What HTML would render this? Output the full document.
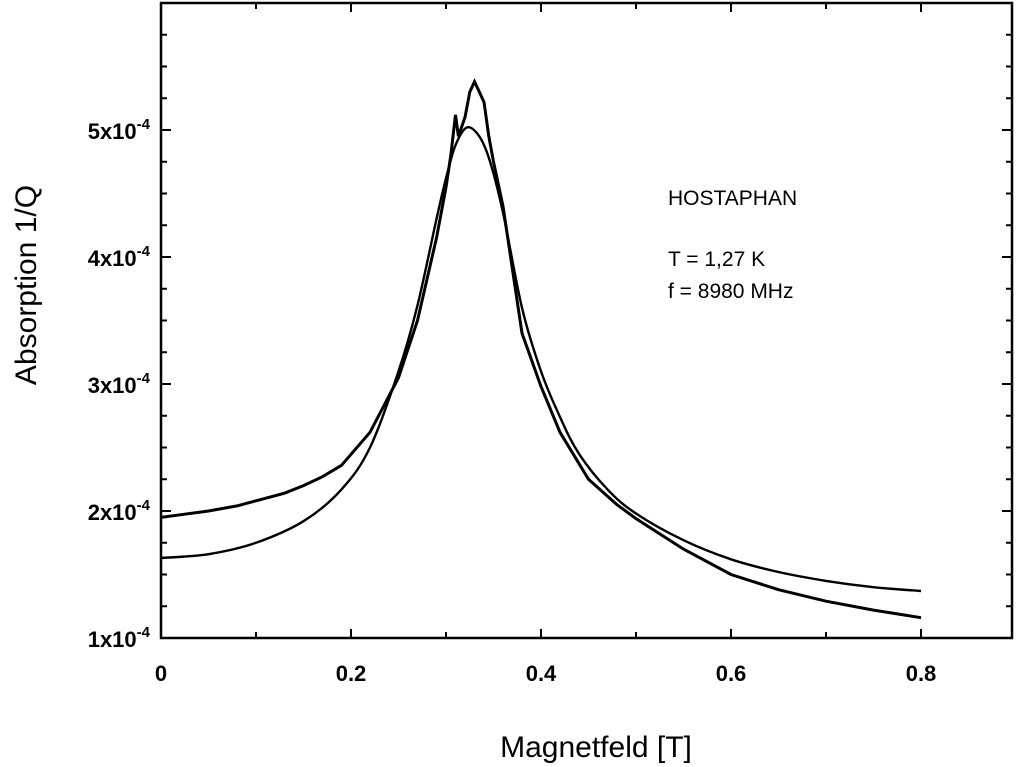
<!DOCTYPE html>
<html><head><meta charset="utf-8"><style>
body{margin:0;background:#fff;}
svg{display:block;font-family:"Liberation Sans",sans-serif;}
</style></head><body>
<svg id="c" width="1016" height="767">
<rect width="1016" height="767" fill="#fff"/>
<g id="axes"></g>
<g id="marks"></g>
<text x="668" y="205" font-size="21">HOSTAPHAN</text>
<text x="668" y="266" font-size="21">T = 1,27 K</text>
<text x="668" y="298" font-size="21">f = 8980 MHz</text>
<text x="596" y="757" font-size="30" text-anchor="middle">Magnetfeld [T]</text>
<text transform="translate(36,285) rotate(-90)" font-size="30" text-anchor="middle">Absorption 1/Q</text>
</svg>
<script>
const xTicks=[0,0.2,0.4,0.6,0.8];
const yTicks=[1,2,3,4,5];
const measX=[0,0.02,0.05,0.08,0.1,0.13,0.15,0.17,0.19,0.22,0.25,0.27,0.29,0.3,0.305,0.31,0.313,0.32,0.325,0.33,0.335,0.34,0.345,0.35,0.36,0.38,0.4,0.42,0.45,0.48,0.5,0.55,0.6,0.65,0.7,0.75,0.8];
const measY=[1.95,1.97,2.0,2.04,2.08,2.14,2.2,2.27,2.36,2.62,3.05,3.5,4.15,4.55,4.8,5.12,4.95,5.1,5.3,5.38,5.3,5.22,4.95,4.75,4.4,3.4,2.98,2.62,2.25,2.05,1.94,1.7,1.5,1.38,1.29,1.22,1.16];
const fitX=[0,0.05,0.1,0.15,0.19,0.22,0.25,0.27,0.29,0.3,0.31,0.322,0.335,0.346,0.36,0.38,0.4,0.42,0.44,0.47,0.5,0.55,0.6,0.65,0.7,0.75,0.8];
const fitY=[1.63,1.66,1.75,1.92,2.17,2.5,3.1,3.62,4.3,4.62,4.88,5.02,4.95,4.76,4.35,3.6,3.1,2.74,2.45,2.17,1.98,1.77,1.62,1.52,1.45,1.40,1.37];
const L=161,R=1012,T=3,B=638;
const sx=v=>L+v*950, sy=v=>B-(v-1)*127;
const NS='http://www.w3.org/2000/svg';
const ax=document.getElementById('axes'), mk=document.getElementById('marks');
function el(t,a,p){const e=document.createElementNS(NS,t);for(const k in a)e.setAttribute(k,a[k]);p.appendChild(e);return e;}
const fr=el('rect',{x:L,y:T,width:R-L,height:B-T,fill:'none',stroke:'#000','stroke-width':2.5},ax);


for(let i=0;i<=8;i++){const x=sx(i*0.1);const len=i%2==0?9:6;
el('line',{x1:x,y1:B,x2:x,y2:B-len,stroke:'#000','stroke-width':2},ax);
el('line',{x1:x,y1:T,x2:x,y2:T+len,stroke:'#000','stroke-width':2},ax);}
for(let v=1;v<=6;v+=0.25){const y=sy(v);const len=Math.abs(v-Math.round(v))<0.01?10:6;
el('line',{x1:L,y1:y,x2:L+len,y2:y,stroke:'#000','stroke-width':2},ax);
el('line',{x1:R,y1:y,x2:R-len,y2:y,stroke:'#000','stroke-width':2},ax);}
xTicks.forEach(v=>{const t=el('text',{x:sx(v),y:681,'font-size':22,'text-anchor':'middle','font-weight':'bold'},ax);t.textContent=v===0?'0':String(v);

});
yTicks.forEach(v=>{const t=el('text',{x:150,y:sy(v)+9,'font-size':22,'text-anchor':'end','font-weight':'bold'},ax);
t.innerHTML=v+'x10<tspan dy="-10" font-size="15">-4</tspan>';

});
function smooth(xs,ys){const p=xs.map((x,i)=>[sx(x),sy(ys[i])]);let d='M'+p[0][0].toFixed(1)+','+p[0][1].toFixed(1);
for(let i=0;i<p.length-1;i++){const p0=p[i-1]||p[i],p1=p[i],p2=p[i+1],p3=p[i+2]||p2;
d+='C'+(p1[0]+(p2[0]-p0[0])/6).toFixed(1)+','+(p1[1]+(p2[1]-p0[1])/6).toFixed(1)+' '+(p2[0]-(p3[0]-p1[0])/6).toFixed(1)+','+(p2[1]-(p3[1]-p1[1])/6).toFixed(1)+' '+p2[0].toFixed(1)+','+p2[1].toFixed(1);}
return d;}
function path(xs,ys){return xs.map((x,i)=>(i?'L':'M')+sx(x).toFixed(1)+','+sy(ys[i]).toFixed(1)).join('');}
const m=el('path',{d:path(measX,measY),fill:'none',stroke:'#000','stroke-width':3},mk);


const f=el('path',{d:smooth(fitX,fitY),fill:'none',stroke:'#000','stroke-width':2.4},mk);


</script>
</body></html>
